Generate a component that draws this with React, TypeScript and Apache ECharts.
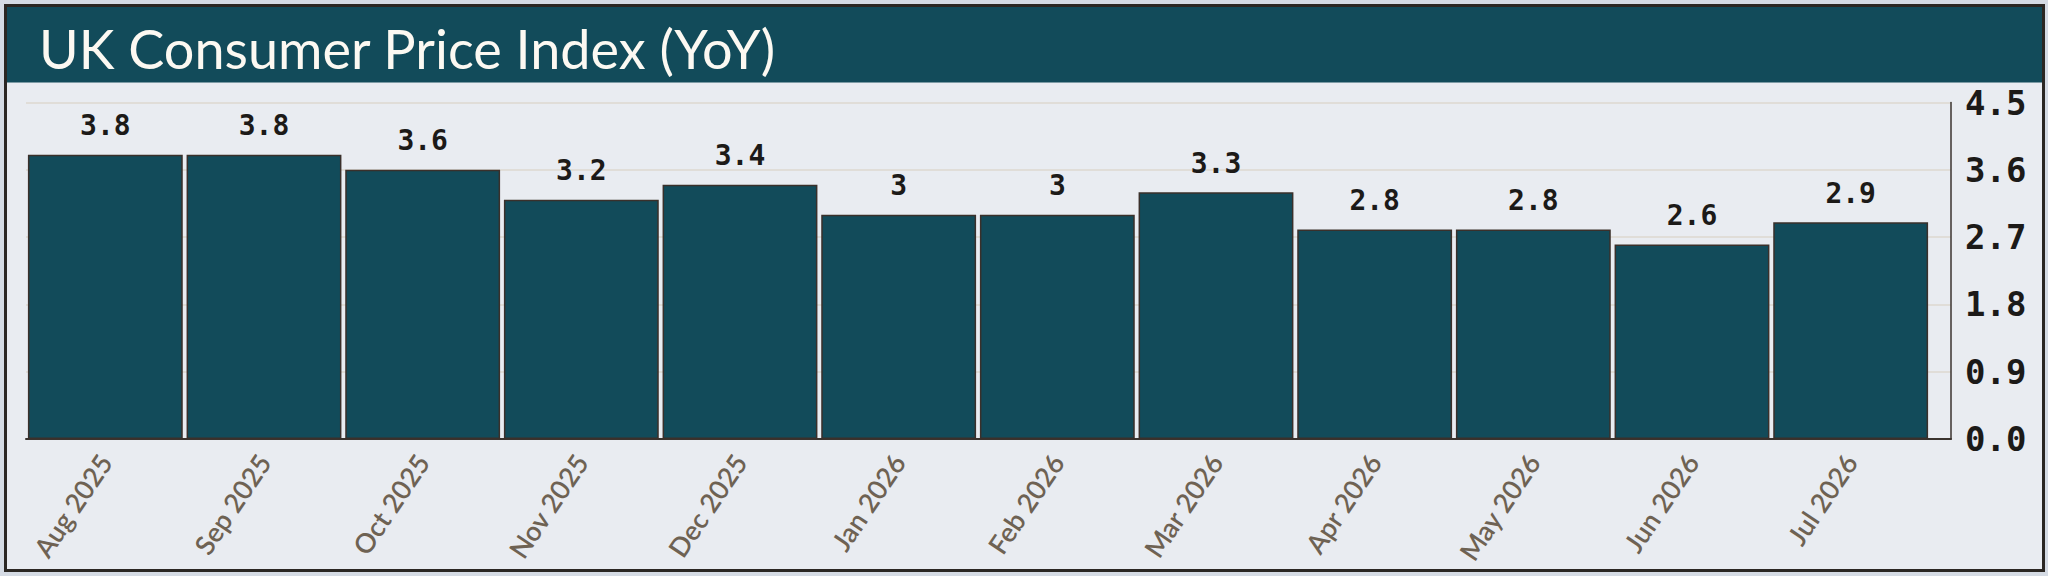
import React, { useEffect, useRef } from "react";
import * as echarts from "echarts";

const categories = [
  "Aug 2025", "Sep 2025", "Oct 2025", "Nov 2025", "Dec 2025", "Jan 2026",
  "Feb 2026", "Mar 2026", "Apr 2026", "May 2026", "Jun 2026", "Jul 2026",
];
const cpiValues = [3.8, 3.8, 3.6, 3.2, 3.4, 3, 3, 3.3, 2.8, 2.8, 2.6, 2.9];
const yMin = 0;
const yMax = 4.5;
const yInterval = 0.9;
const titleText = "UK Consumer Price Index (YoY)";

export default function App() {
  const ref = useRef<HTMLDivElement>(null);
  useEffect(() => {
    if (!ref.current) return;
    const chart = echarts.init(ref.current, undefined, { renderer: "svg" });
    const gridTop = 102.5;
    const gridHeight = 336.5;
    chart.setOption({
      animation: false,
      backgroundColor: "#d5dbe4",
      title: {
        text: titleText,
        left: 34,
        top: 16,
        textStyle: {
          color: "#fcf9f2",
          fontFamily: "Lato",
          fontWeight: "normal",
          fontSize: 54,
        },
      },
      graphic: [
        {
          type: "rect",
          z: -10,
          shape: { x: 5.5, y: 5.5, width: 2038, height: 565 },
          style: { fill: "#e9ecf1", stroke: "#2b2723", lineWidth: 3 },
        },
        {
          type: "rect",
          z: -9,
          shape: { x: 7, y: 7, width: 2035, height: 75.5 },
          style: { fill: "#124b5a" },
        },
      ],
      grid: [
        { left: 26, top: gridTop, width: 1904, height: gridHeight },
        { left: 26, top: gridTop, width: 1925, height: gridHeight },
      ],
      xAxis: [
        {
          type: "category",
          gridIndex: 0,
          data: categories,
          axisLine: { show: false },
          axisTick: { show: false },
          axisLabel: {
            rotate: 56,
            margin: 18,
            color: "#6e6253",
            fontFamily: "Lato",
            fontWeight: 600,
            fontSize: 27,
            interval: 0,
          },
        },
        {
          type: "value",
          gridIndex: 1,
          min: 0,
          max: 1,
          axisLine: { show: true, onZero: false, lineStyle: { color: "#3a332e", width: 2 } },
          axisTick: { show: false },
          axisLabel: { show: false },
          splitLine: { show: false },
        },
      ],
      yAxis: [
        {
          type: "value",
          gridIndex: 0,
          min: yMin,
          max: yMax,
          show: false,
        },
        {
          type: "value",
          gridIndex: 1,
          position: "right",
          min: yMin,
          max: yMax,
          interval: yInterval,
          axisLine: { show: true, onZero: false, lineStyle: { color: "#3a332e", width: 1.5 } },
          axisTick: { show: false },
          splitLine: { show: true, lineStyle: { color: "#ddd8cf", width: 1.5 } },
          axisLabel: {
            margin: 14,
            color: "#1c1a18",
            fontFamily: "DejaVu Sans Mono",
            fontWeight: "bold",
            fontSize: 34,
            formatter: (v: number) => v.toFixed(1),
          },
        },
      ],
      series: [
        {
          type: "bar",
          xAxisIndex: 0,
          yAxisIndex: 0,
          data: cpiValues,
          barCategoryGap: "2.4%",
          itemStyle: { color: "#124b5a", borderColor: "#3a302b", borderWidth: 1.5 },
          label: {
            show: true,
            position: "top",
            distance: 15,
            color: "#1c1a18",
            fontFamily: "DejaVu Sans Mono",
            fontWeight: "bold",
            fontSize: 28,
          },
        },
      ],
    });
    return () => chart.dispose();
  }, []);
  return (
    <div
      ref={ref}
      style={{ position: "fixed", left: 0, top: 0, width: 2048, height: 576 }}
    />
  );
}
